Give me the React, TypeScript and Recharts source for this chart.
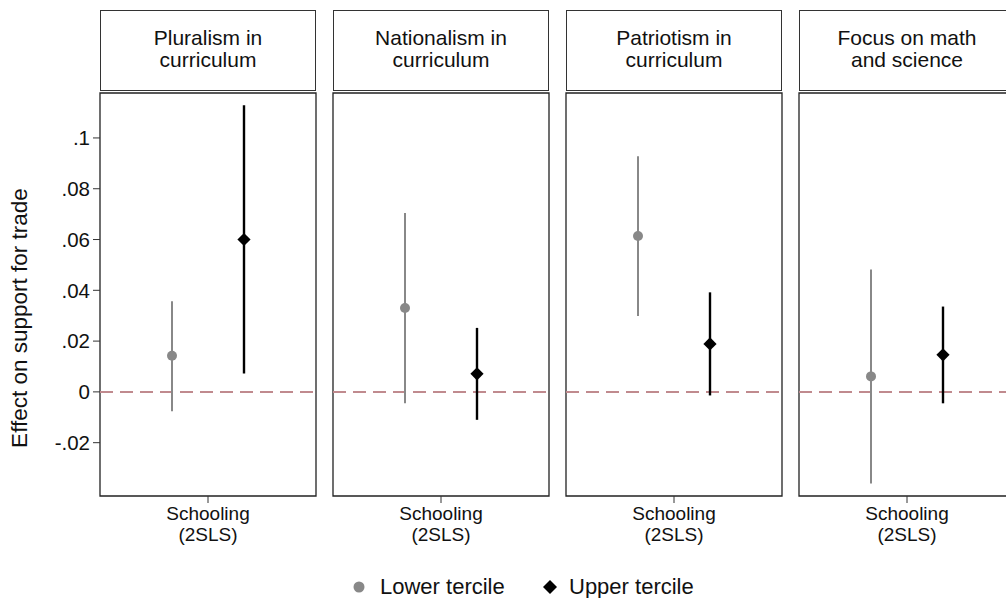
import React from 'react';
import { ComposedChart, Scatter, ErrorBar, XAxis, YAxis, ReferenceLine, ReferenceArea } from 'recharts';

// panel headers, one per curriculum dimension
const panelTitles = [
  ['Pluralism in', 'curriculum'],
  ['Nationalism in', 'curriculum'],
  ['Patriotism in', 'curriculum'],
  ['Focus on math', 'and science'],
];

// lower tercile: point estimate and 95% CI
const lowerEst = [0.0142, 0.033, 0.0614, 0.0061];
const lowerLo = [-0.0076, -0.0045, 0.0299, -0.0361];
const lowerHi = [0.0357, 0.0704, 0.0928, 0.0482];

// upper tercile: point estimate and 95% CI
const upperEst = [0.06, 0.0071, 0.0189, 0.0146];
const upperLo = [0.0072, -0.011, -0.0014, -0.0045];
const upperHi = [0.1129, 0.0252, 0.0392, 0.0336];

const yTicks = [-0.02, 0, 0.02, 0.04, 0.06, 0.08, 0.1];
const xLabel = ['Schooling', '(2SLS)'];
const legendLabels = ['Lower tercile', 'Upper tercile'];
const yTitle = 'Effect on support for trade';

const Y_DOMAIN: [number, number] = [-0.041, 0.1177];
const PLOT_LEFT = [100, 333, 566, 799];
const PLOT_W = 216;
const PLOT_TOP = 93;
const PLOT_H = 403;
const X_AXIS_H = 60;
const PAD = 2;

const GRAY = '#888888';
const BLACK = '#000000';
const FONT = '"Liberation Sans", Arial, Helvetica, sans-serif';

const fmtTick = (v: number) => (v === 0 ? '0' : String(v).replace('0.', '.'));

const SchoolingTick = (props: any) => {
  const { x, y } = props;
  return (
    <text x={x} y={y} textAnchor="middle" fontSize={19} fill="#111">
      <tspan x={x} dy="0.71em">{xLabel[0]}</tspan>
      <tspan x={x} dy={20.5}>{xLabel[1]}</tspan>
    </text>
  );
};

const Dot = (props: any) => <circle cx={props.cx} cy={props.cy} r={5} fill={GRAY} />;

const Diamond = (props: any) => {
  const { cx, cy } = props;
  const s = 6.6;
  return <path d={`M${cx},${cy - s}L${cx + s},${cy}L${cx},${cy + s}L${cx - s},${cy}Z`} fill={BLACK} />;
};

const Panel = ({ i }: { i: number }) => {
  const first = i === 0;
  const lower = [{ x: 1, y: lowerEst[i], err: [lowerEst[i] - lowerLo[i], lowerHi[i] - lowerEst[i]] }];
  const upper = [{ x: 2, y: upperEst[i], err: [upperEst[i] - upperLo[i], upperHi[i] - upperEst[i]] }];
  const yAxisW = first ? PLOT_LEFT[0] : 0;
  const width = yAxisW + PLOT_W + (first ? 0 : PAD) + PAD;
  const height = PAD + PLOT_H + X_AXIS_H;
  const left = first ? 0 : PLOT_LEFT[i] - PAD;

  return (
    <>
      <div
        style={{
          position: 'absolute',
          left: PLOT_LEFT[i],
          top: 10,
          width: PLOT_W,
          height: 81,
          boxSizing: 'border-box',
          border: '1px solid #333',
          paddingTop: 16,
          textAlign: 'center',
          fontSize: 21,
          lineHeight: '22px',
          color: '#111',
        }}
      >
        {panelTitles[i][0]}
        <br />
        {panelTitles[i][1]}
      </div>
      <div style={{ position: 'absolute', left, top: PLOT_TOP - PAD }}>
        <ComposedChart
          width={width}
          height={height}
          margin={{ top: PAD, right: PAD, bottom: 0, left: first ? 0 : PAD }}
        >
          <XAxis
            type="number"
            dataKey="x"
            domain={[0, 3]}
            ticks={[1.5]}
            allowDataOverflow
            axisLine={false}
            tickLine={{ stroke: '#333' }}
            tickSize={7}
            tickMargin={4}
            height={X_AXIS_H}
            tick={<SchoolingTick />}
          />
          <YAxis
            type="number"
            dataKey="y"
            domain={Y_DOMAIN}
            ticks={yTicks}
            allowDataOverflow
            hide={!first}
            width={yAxisW}
            axisLine={false}
            tickLine={{ stroke: '#333' }}
            tickSize={7}
            tickMargin={3}
            tickFormatter={fmtTick}
            tick={{ fontSize: 20.5, fill: '#111' }}
          />
          <ReferenceArea
            x1={0}
            x2={3}
            y1={Y_DOMAIN[0]}
            y2={Y_DOMAIN[1]}
            fill="none"
            fillOpacity={0}
            stroke="#222"
            strokeWidth={1.3}
          />
          <ReferenceLine y={0} stroke="#c08a8e" strokeWidth={2} strokeDasharray="13 7" />
          <Scatter data={lower} fill={GRAY} shape={<Dot />} isAnimationActive={false}>
            <ErrorBar dataKey="err" direction="y" width={0} stroke={GRAY} strokeWidth={2} isAnimationActive={false} />
          </Scatter>
          <Scatter data={upper} fill={BLACK} shape={<Diamond />} isAnimationActive={false}>
            <ErrorBar dataKey="err" direction="y" width={0} stroke={BLACK} strokeWidth={2.4} isAnimationActive={false} />
          </Scatter>
        </ComposedChart>
      </div>
    </>
  );
};

const App: React.FC = () => {
  return (
    <div
      style={{
        position: 'absolute',
        left: 0,
        top: 0,
        width: 1006,
        height: 598,
        overflow: 'hidden',
        background: '#fff',
        fontFamily: FONT,
      }}
    >
      {panelTitles.map((_, i) => (
        <Panel key={i} i={i} />
      ))}
      <div
        style={{
          position: 'absolute',
          left: 20,
          top: 318,
          transform: 'translate(-50%, -50%) rotate(-90deg)',
          whiteSpace: 'nowrap',
          fontSize: 22.5,
          color: '#111',
        }}
      >
        {yTitle}
      </div>
      <svg style={{ position: 'absolute', left: 0, top: 568 }} width={1006} height={30}>
        <circle cx={359} cy={19} r={5.5} fill={GRAY} />
        <text x={380} y={25.5} fontSize={22} fill="#111">{legendLabels[0]}</text>
        <path d="M550,12L557,19L550,26L543,19Z" fill={BLACK} />
        <text x={569} y={25.5} fontSize={22} fill="#111">{legendLabels[1]}</text>
      </svg>
    </div>
  );
};

export default App;
